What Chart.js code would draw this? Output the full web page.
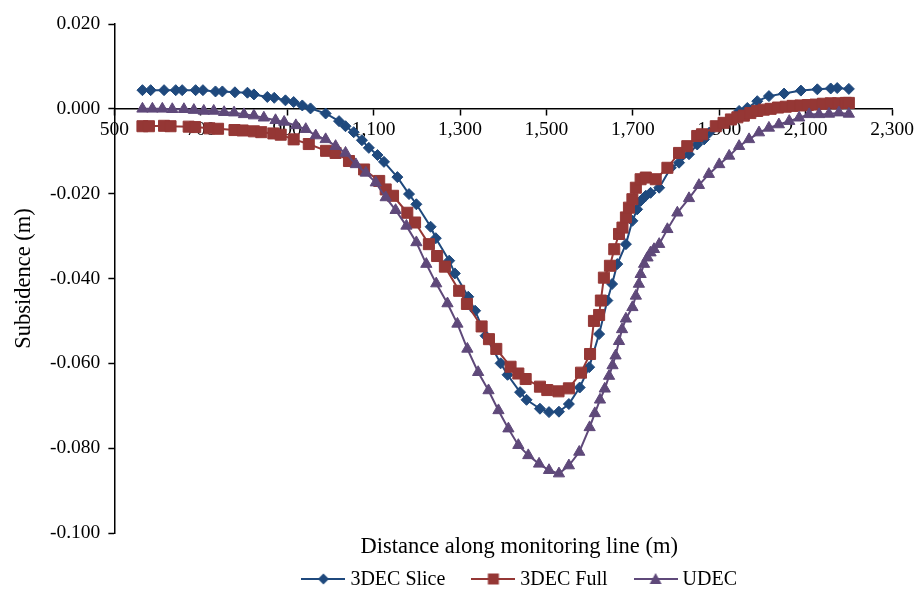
<!DOCTYPE html>
<html>
<head>
<meta charset="utf-8">
<title>Subsidence along monitoring line</title>
<script src="https://cdn.jsdelivr.net/npm/chart.js@4.4.1/dist/chart.umd.min.js"></script>
<style>
    html, body { margin: 0; padding: 0; background: #ffffff; }
    #chart-wrap { width: 917px; height: 591px; }
</style>
</head>
<body>
<div id="chart-wrap"><canvas id="subsidenceChart"></canvas></div>
<script>
// --- Data ---
const seriesNames = ['3DEC Slice', '3DEC Full', 'UDEC'];

const sliceX = [565, 584, 615, 642, 657, 688, 705, 734, 750, 779, 808, 823, 854, 870, 896, 915, 935, 954, 989, 1020,
    1035, 1054, 1073, 1089, 1109, 1124, 1155, 1182, 1199, 1232, 1244, 1275, 1288, 1319, 1335, 1359, 1394, 1410, 1439, 1454,
    1485, 1506, 1529, 1552, 1577, 1599, 1622, 1641, 1652, 1664, 1684, 1699, 1710, 1718, 1730, 1741, 1761, 1788, 1807, 1830,
    1849, 1865, 1877, 1900, 1923, 1946, 1965, 1988, 2015, 2050, 2089, 2127, 2158, 2173, 2200];
const sliceY = [0.0044, 0.0044, 0.0044, 0.0044, 0.0044, 0.0044, 0.0044, 0.0041, 0.0041, 0.0039, 0.0038, 0.0034, 0.0028, 0.0026, 0.0020, 0.0016, 0.0008, 0.0001, -0.0011, -0.0029,
    -0.0041, -0.0055, -0.0074, -0.0092, -0.0109, -0.0125, -0.0161, -0.0201, -0.0225, -0.0278, -0.0305, -0.0358, -0.0388, -0.0443, -0.0476, -0.0535, -0.0600, -0.0627, -0.0668, -0.0686,
    -0.0707, -0.0715, -0.0714, -0.0696, -0.0657, -0.0609, -0.0531, -0.0452, -0.0413, -0.0366, -0.0319, -0.0264, -0.0237, -0.0217, -0.0205, -0.0198, -0.0186, -0.0139, -0.0127, -0.0107,
    -0.0084, -0.0072, -0.0056, -0.0041, -0.0025, -0.0005, 0.0002, 0.0018, 0.0030, 0.0036, 0.0043, 0.0046, 0.0048, 0.0049, 0.0047];

const fullX = [565, 580, 615, 630, 672, 687, 720, 740, 778, 797, 823, 840, 868, 885, 915, 950, 990, 1012, 1043, 1078,
    1113, 1128, 1145, 1178, 1196, 1228, 1247, 1265, 1298, 1316, 1350, 1367, 1384, 1417, 1435, 1452, 1485, 1502, 1528, 1552,
    1580, 1601, 1610, 1622, 1626, 1633, 1647, 1657, 1668, 1676, 1684, 1691, 1699, 1707, 1718, 1730, 1753, 1780, 1807, 1826,
    1849, 1860, 1892, 1910, 1927, 1942, 1957, 1972, 1988, 2003, 2019, 2036, 2054, 2070, 2088, 2105, 2123, 2140, 2158, 2175,
    2193, 2200];
const fullY = [-0.0041, -0.0041, -0.0040, -0.0041, -0.0042, -0.0043, -0.0046, -0.0047, -0.0050, -0.0051, -0.0053, -0.0055, -0.0058, -0.0061, -0.0072, -0.0083, -0.0099, -0.0104, -0.0123, -0.0143,
    -0.0170, -0.0190, -0.0205, -0.0245, -0.0268, -0.0319, -0.0347, -0.0372, -0.0429, -0.0460, -0.0513, -0.0543, -0.0566, -0.0608, -0.0624, -0.0637, -0.0655, -0.0663, -0.0666, -0.0659,
    -0.0622, -0.0578, -0.0500, -0.0486, -0.0452, -0.0398, -0.0370, -0.0331, -0.0295, -0.0280, -0.0256, -0.0233, -0.0213, -0.0186, -0.0166, -0.0162, -0.0166, -0.0139, -0.0104, -0.0088,
    -0.0064, -0.0060, -0.0041, -0.0033, -0.0025, -0.0020, -0.0016, -0.0010, -0.0005, -0.0002, 0.0000, 0.0003, 0.0005, 0.0007, 0.0008, 0.0009, 0.0010, 0.0012, 0.0013, 0.0013,
    0.0014, 0.0014];

const udecX = [565, 588, 611, 634, 661, 684, 707, 730, 754, 777, 800, 823, 846, 873, 893, 920, 943, 966, 989, 1012,
    1035, 1059, 1082, 1105, 1128, 1151, 1176, 1199, 1222, 1245, 1271, 1294, 1317, 1342, 1366, 1389, 1412, 1435, 1458, 1483,
    1506, 1529, 1552, 1576, 1600, 1612, 1624, 1635, 1645, 1653, 1660, 1668, 1675, 1684, 1699, 1707, 1714, 1718, 1726, 1734,
    1741, 1749, 1761, 1780, 1803, 1830, 1853, 1876, 1900, 1923, 1946, 1969, 1992, 2015, 2038, 2062, 2085, 2108, 2131, 2154,
    2177, 2200];
const udecY = [0.0000, 0.0000, 0.0000, -0.0001, -0.0001, -0.0003, -0.0005, -0.0005, -0.0008, -0.0009, -0.0013, -0.0016, -0.0021, -0.0027, -0.0031, -0.0039, -0.0048, -0.0063, -0.0072, -0.0088,
    -0.0104, -0.0131, -0.0151, -0.0174, -0.0209, -0.0239, -0.0276, -0.0315, -0.0366, -0.0412, -0.0459, -0.0507, -0.0566, -0.0621, -0.0664, -0.0711, -0.0754, -0.0793, -0.0817, -0.0837,
    -0.0852, -0.0860, -0.0841, -0.0809, -0.0751, -0.0718, -0.0686, -0.0660, -0.0630, -0.0605, -0.0582, -0.0548, -0.0520, -0.0495, -0.0468, -0.0441, -0.0413, -0.0390, -0.0366, -0.0351,
    -0.0339, -0.0331, -0.0319, -0.0284, -0.0245, -0.0211, -0.0180, -0.0154, -0.0131, -0.0111, -0.0088, -0.0072, -0.0056, -0.0045, -0.0037, -0.0029, -0.0021, -0.0013, -0.0013, -0.0012,
    -0.0009, -0.0012];

// Axis ranges / ticks
const xMin = 500, xMax = 2300, xStep = 200;
const yMin = -0.1, yMax = 0.02, yStep = 0.02;
const xAxisTitle = 'Distance along monitoring line (m)';
const yAxisTitle = 'Subsidence (m)';

const FONT_FAMILY = '"Liberation Serif", "Times New Roman", serif';
const colors = ['#1F497D', '#953735', '#5F497A'];
const markers = ['rectRot', 'rect', 'triangle'];
const markerRadius = [5.5, 7.8, 6.5];

function toPoints(xs, ys) {
    return xs.map((x, i) => ({ x: x, y: ys[i] }));
}

// Legend icon: a short line with the marker on top (Excel-style)
function makeLegendIcon(color, style) {
    const c = document.createElement('canvas');
    c.width = 44;
    c.height = 14;
    const g = c.getContext('2d');
    g.strokeStyle = color;
    g.lineWidth = 2;
    g.beginPath();
    g.moveTo(0, 7);
    g.lineTo(44, 7);
    g.stroke();
    g.fillStyle = color;
    g.beginPath();
    if (style === 'rectRot') {
        g.moveTo(22, 1.5); g.lineTo(27.5, 7); g.lineTo(22, 12.5); g.lineTo(16.5, 7);
    } else if (style === 'rect') {
        g.rect(16.5, 1.5, 11, 11);
    } else {
        g.moveTo(22, 1); g.lineTo(28, 12); g.lineTo(16, 12);
    }
    g.closePath();
    g.fill();
    return c;
}

const legendIcons = colors.map((c, i) => makeLegendIcon(c, markers[i]));

// x axis sits at y = 0, so its title and the legend are drawn under the plot here
const bottomLabelsPlugin = {
    id: 'bottomLabels',
    afterDraw(chart) {
        const { ctx, chartArea } = chart;
        const centerX = (chartArea.left + chartArea.right) / 2 + 16;

        ctx.save();
        ctx.fillStyle = '#000000';
        ctx.textBaseline = 'middle';

        // axis title
        ctx.font = '22.5px ' + FONT_FAMILY;
        ctx.textAlign = 'center';
        ctx.fillText(xAxisTitle, centerX, chartArea.bottom + 14);

        // legend row
        ctx.font = '20px ' + FONT_FAMILY;
        ctx.textAlign = 'left';
        const iconGap = 5, itemGap = 26;
        const widths = chart.data.datasets.map(ds => ctx.measureText(ds.label).width);
        const total = widths.reduce((s, w) => s + legendIcons[0].width + iconGap + w, 0) + itemGap * (widths.length - 1);
        const legendY = chartArea.bottom + 46;
        let x = centerX - total / 2;
        chart.data.datasets.forEach((ds, i) => {
            const icon = legendIcons[i];
            ctx.drawImage(icon, x, legendY - icon.height / 2);
            x += icon.width + iconGap;
            ctx.fillText(ds.label, x, legendY + 1);
            x += widths[i] + itemGap;
        });
        ctx.restore();
    }
};

const allX = [sliceX, fullX, udecX];
const allY = [sliceY, fullY, udecY];

const datasets = seriesNames.map((name, i) => ({
    label: name,
    data: toPoints(allX[i], allY[i]),
    showLine: true,
    borderColor: colors[i],
    backgroundColor: colors[i],
    borderWidth: 2,
    pointStyle: markers[i],
    pointRadius: markerRadius[i],
    pointHoverRadius: markerRadius[i],
    pointBackgroundColor: colors[i],
    pointBorderColor: colors[i],
    pointBorderWidth: 1,
    tension: 0,
    order: 2 - i // later series drawn on top, as in the original
}));

const ctx = document.getElementById('subsidenceChart').getContext('2d');
new Chart(ctx, {
    type: 'scatter',
    data: { datasets: datasets },
    plugins: [bottomLabelsPlugin],
    options: {
        responsive: true,
        maintainAspectRatio: false,
        animation: false,
        layout: {
            padding: { left: 11, right: 2, top: 24, bottom: 58 }
        },
        scales: {
            x: {
                type: 'linear',
                position: { y: 0 },
                min: xMin,
                max: xMax,
                ticks: {
                    stepSize: xStep,
                    color: '#000000',
                    padding: 3,
                    font: { family: FONT_FAMILY, size: 19.5 },
                    callback: v => v.toLocaleString('en-US')
                },
                grid: {
                    drawOnChartArea: false,
                    color: '#000000',
                    tickLength: 6,
                    tickWidth: 1.5
                },
                border: { color: '#000000', width: 1.5 }
            },
            y: {
                type: 'linear',
                position: 'left',
                min: yMin,
                max: yMax,
                ticks: {
                    stepSize: yStep,
                    color: '#000000',
                    padding: 8,
                    font: { family: FONT_FAMILY, size: 19.5 },
                    callback: v => (Math.abs(v) < 1e-9 ? 0 : v).toFixed(3)
                },
                grid: {
                    drawOnChartArea: false,
                    color: '#000000',
                    tickLength: 6,
                    tickWidth: 1.5
                },
                border: { color: '#000000', width: 1.5 },
                title: {
                    display: true,
                    text: yAxisTitle,
                    color: '#000000',
                    font: { family: FONT_FAMILY, size: 22.5 },
                    padding: { top: 0, bottom: 4 }
                }
            }
        },
        plugins: {
            legend: { display: false },
            tooltip: { enabled: false }
        }
    }
});
</script>
</body>
</html>
